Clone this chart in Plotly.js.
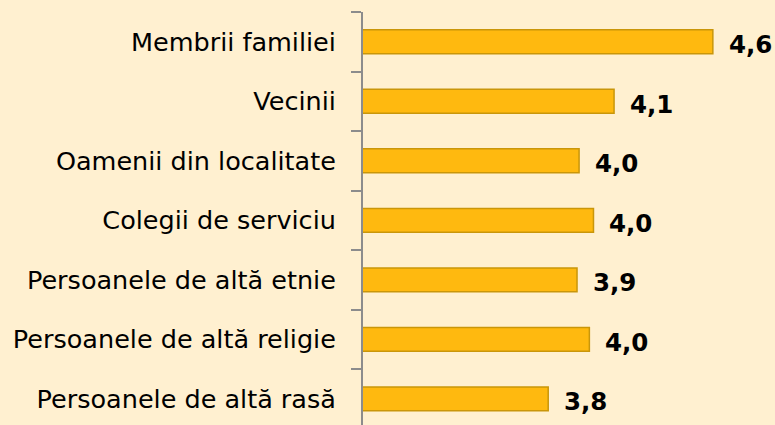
<!DOCTYPE html>
<html>
<head>
<meta charset="utf-8">
<script src="https://cdn.plot.ly/plotly-3.0.1.min.js"></script>
<style>
  html, body { margin: 0; padding: 0; background: #FFF0D0; }
  #chart { width: 775px; height: 425px; }
</style>
</head>
<body>
<div id="chart"></div>
<script>
// Categories, top to bottom
const categories = [
  "Membrii familiei",
  "Vecinii",
  "Oamenii din localitate",
  "Colegii de serviciu",
  "Persoanele de altă etnie",
  "Persoanele de altă religie",
  "Persoanele de altă rasă"
];
// Bar lengths
const values = [4.60, 4.12, 3.95, 4.02, 3.94, 4.00, 3.80];
// Value labels as printed
const valueLabels = ["4,6", "4,1", "4,0", "4,0", "3,9", "4,0", "3,8"];

const trace = {
  type: "bar",
  orientation: "h",
  x: values,
  y: categories,
  width: 0.4,
  marker: { color: "#FFB90F", line: { color: "#C9960A", width: 1.5 } },
  hoverinfo: "none"
};

const annotations = values.map((v, i) => ({
  x: v,
  y: categories[i],
  xref: "x",
  yref: "y",
  text: valueLabels[i],
  showarrow: false,
  xanchor: "left",
  yanchor: "middle",
  xshift: 14,
  yshift: -3,
  font: { family: "DejaVu Sans", size: 24.5, color: "#000000", weight: "bold" }
}));

const layout = {
  width: 775,
  height: 425,
  margin: { l: 363, r: 21, t: 12, b: 0, pad: 0 },
  paper_bgcolor: "#FFF0D0",
  plot_bgcolor: "#FFF0D0",
  showlegend: false,
  bargap: 0.6,
  xaxis: {
    range: [2.9, 4.8],
    showgrid: false,
    zeroline: false,
    showline: false,
    showticklabels: false,
    ticks: ""
  },
  yaxis: {
    type: "category",
    categoryorder: "array",
    categoryarray: categories,
    range: [6.44, -0.5],
    tickson: "boundaries",
    ticks: "outside",
    ticklen: 10,
    tickwidth: 2,
    tickcolor: "#8C8C8C",
    showline: true,
    linecolor: "#8C8C8C",
    linewidth: 2,
    showgrid: false,
    zeroline: false,
    ticklabelstandoff: 20,
    tickfont: { family: "DejaVu Sans", size: 25.5, color: "#000000" }
  },
  annotations: annotations
};

Plotly.newPlot("chart", [trace], layout, { staticPlot: true, displayModeBar: false });
</script>
</body>
</html>
